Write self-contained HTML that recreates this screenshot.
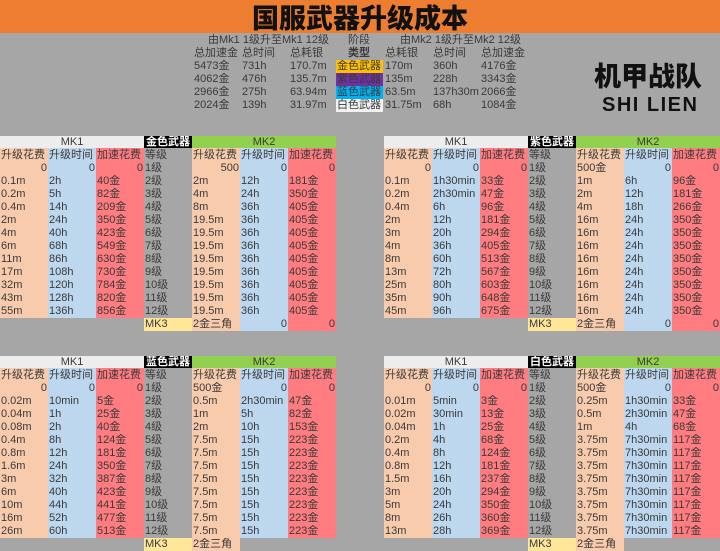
<!DOCTYPE html>
<html><head><meta charset="utf-8">
<style>
*{margin:0;padding:0;box-sizing:border-box}
body{width:720px;height:550px;overflow:hidden;background:#a6a6a6;font-family:"Liberation Sans","Noto Sans CJK SC",sans-serif;color:#3a3a3a;position:relative}
.title{position:absolute;left:0;top:0;width:720px;height:33px;background:#ed7d31;text-align:center;font:900 27px/33px "Noto Sans CJK SC","WenQuanYi Zen Hei",sans-serif;color:#111}
.s{position:absolute;font-size:11px;line-height:13px;white-space:nowrap}
.tag{position:absolute;left:336px;width:47px;height:13px;font-size:11px;line-height:13px;padding-left:1px;white-space:nowrap;overflow:hidden}
table{position:absolute;border-collapse:collapse;table-layout:fixed;width:336px;font-size:11px}
col{width:48px}
td{height:13px;line-height:13px;padding:0 1px;white-space:nowrap;overflow:hidden}
tr.h td{height:12px;line-height:12px;text-align:center}
tr.l td{height:14px;line-height:14px}
.p{background:#f8cbad}.b{background:#bdd7ee}.r{background:#ff7c80}.g{background:#a6a6a6}
.m1{background:#ededed}.m2{background:#92d050}.k{background:#000;color:#fff;font-weight:bold}.y{background:#ffe699}
.rt{text-align:right}
</style></head><body>
<div class="title">国服武器升级成本</div>

<div class="s" style="left:208px;top:34px">由Mk1 1级升至Mk1 12级</div>
<div class="s" style="left:348px;top:34px">阶段</div>
<div class="s" style="left:400px;top:34px">由Mk2 1级升至Mk2 12级</div>
<div class="s" style="left:194px;top:47px">总加速金</div>
<div class="s" style="left:242px;top:47px">总时间</div>
<div class="s" style="left:290px;top:47px">总耗银</div>
<div class="s" style="left:348px;top:47px;font-weight:bold">类型</div>
<div class="s" style="left:385px;top:47px">总耗银</div>
<div class="s" style="left:433px;top:47px">总时间</div>
<div class="s" style="left:481px;top:47px">总加速金</div>

<div class="s" style="left:194px;top:60px">5473金<br>4062金<br>2966金<br>2024金</div>
<div class="s" style="left:242px;top:60px">731h<br>476h<br>275h<br>139h</div>
<div class="s" style="left:290px;top:60px">170.7m<br>135.7m<br>63.94m<br>31.97m</div>
<div class="tag" style="top:60px;background:#ffc000">金色武器</div>
<div class="tag" style="top:73px;background:#7030a0">紫色武器</div>
<div class="tag" style="top:86px;background:#00b0f0">蓝色武器</div>
<div class="tag" style="top:99px;background:#f2f2f2">白色武器</div>
<div class="s" style="left:385px;top:60px">170m<br>135m<br>63.5m<br>31.75m</div>
<div class="s" style="left:433px;top:60px">360h<br>228h<br>137h30m<br>68h</div>
<div class="s" style="left:481px;top:60px">4176金<br>3343金<br>2066金<br>1084金</div>

<div class="s" style="left:594px;top:58px;font:900 27px/34px 'Noto Sans CJK SC','WenQuanYi Zen Hei',sans-serif;color:#111">机甲战队</div>
<div class="s" style="left:602px;top:94px;font:900 20px/22px 'Liberation Sans',sans-serif;color:#111;letter-spacing:1.5px">SHI LIEN</div>

<!-- gold -->
<table style="left:0;top:136px"><colgroup><col><col><col><col><col><col><col></colgroup>
<tr class="h"><td colspan="3" class="m1">MK1</td><td class="k">金色武器</td><td colspan="3" class="m2">MK2</td></tr>
<tr class="l"><td class="p">升级花费</td><td class="b">升级时间</td><td class="r">加速花费</td><td class="g">等级</td><td class="p">升级花费</td><td class="b">升级时间</td><td class="r">加速花费</td></tr>
<tr><td class="p rt">0</td><td class="b rt">0</td><td class="r rt">0</td><td class="g">1级</td><td class="p rt">500</td><td class="b rt">0</td><td class="r rt">0</td></tr>
<tr><td class="p">0.1m</td><td class="b">2h</td><td class="r">40金</td><td class="g">2级</td><td class="p">2m</td><td class="b">12h</td><td class="r">181金</td></tr>
<tr><td class="p">0.2m</td><td class="b">5h</td><td class="r">82金</td><td class="g">3级</td><td class="p">4m</td><td class="b">24h</td><td class="r">350金</td></tr>
<tr><td class="p">0.4m</td><td class="b">14h</td><td class="r">209金</td><td class="g">4级</td><td class="p">8m</td><td class="b">36h</td><td class="r">405金</td></tr>
<tr><td class="p">2m</td><td class="b">24h</td><td class="r">350金</td><td class="g">5级</td><td class="p">19.5m</td><td class="b">36h</td><td class="r">405金</td></tr>
<tr><td class="p">4m</td><td class="b">40h</td><td class="r">423金</td><td class="g">6级</td><td class="p">19.5m</td><td class="b">36h</td><td class="r">405金</td></tr>
<tr><td class="p">6m</td><td class="b">68h</td><td class="r">549金</td><td class="g">7级</td><td class="p">19.5m</td><td class="b">36h</td><td class="r">405金</td></tr>
<tr><td class="p">11m</td><td class="b">86h</td><td class="r">630金</td><td class="g">8级</td><td class="p">19.5m</td><td class="b">36h</td><td class="r">405金</td></tr>
<tr><td class="p">17m</td><td class="b">108h</td><td class="r">730金</td><td class="g">9级</td><td class="p">19.5m</td><td class="b">36h</td><td class="r">405金</td></tr>
<tr><td class="p">32m</td><td class="b">120h</td><td class="r">784金</td><td class="g">10级</td><td class="p">19.5m</td><td class="b">36h</td><td class="r">405金</td></tr>
<tr><td class="p">43m</td><td class="b">128h</td><td class="r">820金</td><td class="g">11级</td><td class="p">19.5m</td><td class="b">36h</td><td class="r">405金</td></tr>
<tr><td class="p">55m</td><td class="b">136h</td><td class="r">856金</td><td class="g">12级</td><td class="p">19.5m</td><td class="b">36h</td><td class="r">405金</td></tr>
<tr><td class="g"></td><td class="g"></td><td class="g"></td><td class="y">MK3</td><td class="p">2金三角</td><td class="b rt">0</td><td class="r rt">0</td></tr>
</table>

<!-- purple -->
<table style="left:384px;top:136px"><colgroup><col><col><col><col><col><col><col></colgroup>
<tr class="h"><td colspan="3" class="m1">MK1</td><td class="k">紫色武器</td><td colspan="3" class="m2">MK2</td></tr>
<tr class="l"><td class="p">升级花费</td><td class="b">升级时间</td><td class="r">加速花费</td><td class="g">等级</td><td class="p">升级花费</td><td class="b">升级时间</td><td class="r">加速花费</td></tr>
<tr><td class="p rt">0</td><td class="b rt">0</td><td class="r rt">0</td><td class="g">1级</td><td class="p">500金</td><td class="b rt">0</td><td class="r rt">0</td></tr>
<tr><td class="p">0.1m</td><td class="b">1h30min</td><td class="r">33金</td><td class="g">2级</td><td class="p">1m</td><td class="b">6h</td><td class="r">96金</td></tr>
<tr><td class="p">0.2m</td><td class="b">2h30min</td><td class="r">47金</td><td class="g">3级</td><td class="p">2m</td><td class="b">12h</td><td class="r">181金</td></tr>
<tr><td class="p">0.4m</td><td class="b">6h</td><td class="r">96金</td><td class="g">4级</td><td class="p">4m</td><td class="b">18h</td><td class="r">266金</td></tr>
<tr><td class="p">2m</td><td class="b">12h</td><td class="r">181金</td><td class="g">5级</td><td class="p">16m</td><td class="b">24h</td><td class="r">350金</td></tr>
<tr><td class="p">3m</td><td class="b">20h</td><td class="r">294金</td><td class="g">6级</td><td class="p">16m</td><td class="b">24h</td><td class="r">350金</td></tr>
<tr><td class="p">4m</td><td class="b">36h</td><td class="r">405金</td><td class="g">7级</td><td class="p">16m</td><td class="b">24h</td><td class="r">350金</td></tr>
<tr><td class="p">8m</td><td class="b">60h</td><td class="r">513金</td><td class="g">8级</td><td class="p">16m</td><td class="b">24h</td><td class="r">350金</td></tr>
<tr><td class="p">13m</td><td class="b">72h</td><td class="r">567金</td><td class="g">9级</td><td class="p">16m</td><td class="b">24h</td><td class="r">350金</td></tr>
<tr><td class="p">25m</td><td class="b">80h</td><td class="r">603金</td><td class="g">10级</td><td class="p">16m</td><td class="b">24h</td><td class="r">350金</td></tr>
<tr><td class="p">35m</td><td class="b">90h</td><td class="r">648金</td><td class="g">11级</td><td class="p">16m</td><td class="b">24h</td><td class="r">350金</td></tr>
<tr><td class="p">45m</td><td class="b">96h</td><td class="r">675金</td><td class="g">12级</td><td class="p">16m</td><td class="b">24h</td><td class="r">350金</td></tr>
<tr><td class="g"></td><td class="g"></td><td class="g"></td><td class="y">MK3</td><td class="p">2金三角</td><td class="b rt">0</td><td class="r rt">0</td></tr>
</table>

<!-- blue -->
<table style="left:0;top:356px"><colgroup><col><col><col><col><col><col><col></colgroup>
<tr class="h"><td colspan="3" class="m1">MK1</td><td class="k">蓝色武器</td><td colspan="3" class="m2">MK2</td></tr>
<tr class="l"><td class="p">升级花费</td><td class="b">升级时间</td><td class="r">加速花费</td><td class="g">等级</td><td class="p">升级花费</td><td class="b">升级时间</td><td class="r">加速花费</td></tr>
<tr><td class="p rt">0</td><td class="b rt">0</td><td class="r rt">0</td><td class="g">1级</td><td class="p">500金</td><td class="b rt">0</td><td class="r rt">0</td></tr>
<tr><td class="p">0.02m</td><td class="b">10min</td><td class="r">5金</td><td class="g">2级</td><td class="p">0.5m</td><td class="b">2h30min</td><td class="r">47金</td></tr>
<tr><td class="p">0.04m</td><td class="b">1h</td><td class="r">25金</td><td class="g">3级</td><td class="p">1m</td><td class="b">5h</td><td class="r">82金</td></tr>
<tr><td class="p">0.08m</td><td class="b">2h</td><td class="r">40金</td><td class="g">4级</td><td class="p">2m</td><td class="b">10h</td><td class="r">153金</td></tr>
<tr><td class="p">0.4m</td><td class="b">8h</td><td class="r">124金</td><td class="g">5级</td><td class="p">7.5m</td><td class="b">15h</td><td class="r">223金</td></tr>
<tr><td class="p">0.8m</td><td class="b">12h</td><td class="r">181金</td><td class="g">6级</td><td class="p">7.5m</td><td class="b">15h</td><td class="r">223金</td></tr>
<tr><td class="p">1.6m</td><td class="b">24h</td><td class="r">350金</td><td class="g">7级</td><td class="p">7.5m</td><td class="b">15h</td><td class="r">223金</td></tr>
<tr><td class="p">3m</td><td class="b">32h</td><td class="r">387金</td><td class="g">8级</td><td class="p">7.5m</td><td class="b">15h</td><td class="r">223金</td></tr>
<tr><td class="p">6m</td><td class="b">40h</td><td class="r">423金</td><td class="g">9级</td><td class="p">7.5m</td><td class="b">15h</td><td class="r">223金</td></tr>
<tr><td class="p">10m</td><td class="b">44h</td><td class="r">441金</td><td class="g">10级</td><td class="p">7.5m</td><td class="b">15h</td><td class="r">223金</td></tr>
<tr><td class="p">16m</td><td class="b">52h</td><td class="r">477金</td><td class="g">11级</td><td class="p">7.5m</td><td class="b">15h</td><td class="r">223金</td></tr>
<tr><td class="p">26m</td><td class="b">60h</td><td class="r">513金</td><td class="g">12级</td><td class="p">7.5m</td><td class="b">15h</td><td class="r">223金</td></tr>
<tr><td class="g"></td><td class="g"></td><td class="g"></td><td class="y">MK3</td><td class="p">2金三角</td><td class="g"></td><td class="g"></td></tr>
</table>

<!-- white -->
<table style="left:384px;top:356px"><colgroup><col><col><col><col><col><col><col></colgroup>
<tr class="h"><td colspan="3" class="m1">MK1</td><td class="k">白色武器</td><td colspan="3" class="m2">MK2</td></tr>
<tr class="l"><td class="p">升级花费</td><td class="b">升级时间</td><td class="r">加速花费</td><td class="g">等级</td><td class="p">升级花费</td><td class="b">升级时间</td><td class="r">加速花费</td></tr>
<tr><td class="p rt">0</td><td class="b rt">0</td><td class="r rt">0</td><td class="g">1级</td><td class="p">500金</td><td class="b rt">0</td><td class="r rt">0</td></tr>
<tr><td class="p">0.01m</td><td class="b">5min</td><td class="r">3金</td><td class="g">2级</td><td class="p">0.25m</td><td class="b">1h30min</td><td class="r">33金</td></tr>
<tr><td class="p">0.02m</td><td class="b">30min</td><td class="r">13金</td><td class="g">3级</td><td class="p">0.5m</td><td class="b">2h30min</td><td class="r">47金</td></tr>
<tr><td class="p">0.04m</td><td class="b">1h</td><td class="r">25金</td><td class="g">4级</td><td class="p">1m</td><td class="b">4h</td><td class="r">68金</td></tr>
<tr><td class="p">0.2m</td><td class="b">4h</td><td class="r">68金</td><td class="g">5级</td><td class="p">3.75m</td><td class="b">7h30min</td><td class="r">117金</td></tr>
<tr><td class="p">0.4m</td><td class="b">8h</td><td class="r">124金</td><td class="g">6级</td><td class="p">3.75m</td><td class="b">7h30min</td><td class="r">117金</td></tr>
<tr><td class="p">0.8m</td><td class="b">12h</td><td class="r">181金</td><td class="g">7级</td><td class="p">3.75m</td><td class="b">7h30min</td><td class="r">117金</td></tr>
<tr><td class="p">1.5m</td><td class="b">16h</td><td class="r">237金</td><td class="g">8级</td><td class="p">3.75m</td><td class="b">7h30min</td><td class="r">117金</td></tr>
<tr><td class="p">3m</td><td class="b">20h</td><td class="r">294金</td><td class="g">9级</td><td class="p">3.75m</td><td class="b">7h30min</td><td class="r">117金</td></tr>
<tr><td class="p">5m</td><td class="b">24h</td><td class="r">350金</td><td class="g">10级</td><td class="p">3.75m</td><td class="b">7h30min</td><td class="r">117金</td></tr>
<tr><td class="p">8m</td><td class="b">26h</td><td class="r">360金</td><td class="g">11级</td><td class="p">3.75m</td><td class="b">7h30min</td><td class="r">117金</td></tr>
<tr><td class="p">13m</td><td class="b">28h</td><td class="r">369金</td><td class="g">12级</td><td class="p">3.75m</td><td class="b">7h30min</td><td class="r">117金</td></tr>
<tr><td class="g"></td><td class="g"></td><td class="g"></td><td class="y">MK3</td><td class="p">2金三角</td><td class="g"></td><td class="g"></td></tr>
</table>
</body></html>
